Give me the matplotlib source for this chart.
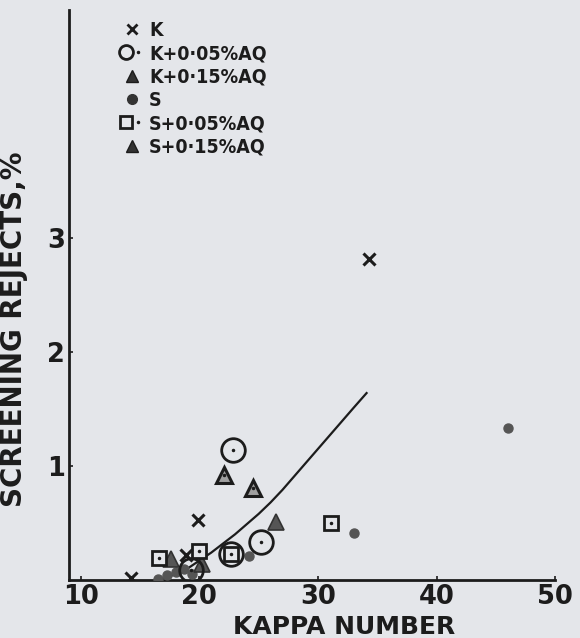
import matplotlib.pyplot as plt
from matplotlib.lines import Line2D
from matplotlib.legend_handler import HandlerTuple

BG = '#e4e6ea'
INK = '#1c1c1c'
GREY = '#555555'

# screening rejects (%) against kappa number
k_x = [34.3, 19.9, 18.9, 14.2]
k_y = [2.82, 0.53, 0.22, 0.02]

k05_x = [22.8, 25.2, 22.7, 19.3]
k05_y = [1.14, 0.33, 0.23, 0.09]

k15_x = [22.1, 24.5]
k15_y = [0.92, 0.81]

s_x = [46.0, 33.0, 24.2, 16.5, 17.3, 18.0, 18.7, 19.4]
s_y = [1.33, 0.41, 0.21, 0.01, 0.04, 0.07, 0.10, 0.05]

s05_x = [31.1, 22.7, 20.0, 16.6]
s05_y = [0.50, 0.23, 0.25, 0.19]

s15_x = [26.5, 17.6, 20.2]
s15_y = [0.51, 0.18, 0.14]

# hand-drawn trend line
curve_x = [16.5, 18.0, 19.0, 20.0, 21.0, 22.0, 23.0, 24.0, 25.0, 26.0, 27.0,
           28.0, 29.0, 30.0, 31.0, 32.0, 33.0, 34.1]
curve_y = [0.0, 0.05, 0.10, 0.17, 0.24, 0.32, 0.40, 0.49, 0.58, 0.68, 0.79,
           0.91, 1.03, 1.15, 1.27, 1.39, 1.51, 1.64]

labels = ['K', 'K+0·05%AQ', 'K+0·15%AQ', 'S', 'S+0·05%AQ', 'S+0·15%AQ']

plt.rcParams['font.family'] = ['DejaVu Sans']

fig = plt.figure(figsize=(5.8, 6.38), dpi=100, facecolor=BG)
ax = fig.add_axes([0.119, 0.091, 0.838, 0.893], facecolor=BG)

ax.plot(curve_x, curve_y, color=INK, lw=1.6, zorder=2)

ax.plot(s_x, s_y, 'o', ms=6.5, mfc=GREY, mec=GREY, zorder=3)
ax.plot(s15_x, s15_y, '^', ms=11, mfc=GREY, mec='#333333', mew=1.2, zorder=3)
ax.plot(k15_x, k15_y, '^', ms=11, mfc='#a0a0a0', mec=INK, mew=2.2, zorder=3)
ax.plot(k15_x, k15_y, '.', ms=3, color=INK, zorder=4)
ax.plot(k05_x, k05_y, 'o', ms=17, mfc='none', mec=INK, mew=2, zorder=4)
ax.plot(k05_x, k05_y, '.', ms=3, color=INK, zorder=4)
ax.plot(s05_x, s05_y, 's', ms=10, mfc=BG, mec=INK, mew=2, zorder=5)
ax.plot(s05_x, s05_y, '.', ms=3, color=INK, zorder=5)
ax.plot(k_x, k_y, 'x', ms=8, mec=INK, mew=2.2, zorder=5)

# legend handles (smaller than the plotted marks)
h_k = Line2D([], [], ls='none', marker='x', ms=7, mec=INK, mew=2)
h_k05 = (Line2D([], [], ls='none', marker='o', ms=10, mfc='none', mec=INK, mew=2),
         Line2D([], [], ls='none', marker='.', ms=3, color=INK))
h_k15 = Line2D([], [], ls='none', marker='^', ms=9, mfc='#333333', mec=INK)
h_s = Line2D([], [], ls='none', marker='o', ms=7, mfc='#333333', mec='#333333')
h_s05 = (Line2D([], [], ls='none', marker='s', ms=8, mfc='none', mec=INK, mew=2),
         Line2D([], [], ls='none', marker='.', ms=3, color=INK))
h_s15 = Line2D([], [], ls='none', marker='^', ms=9, mfc='#333333', mec=INK)

leg = ax.legend([h_k, h_k05, h_k15, h_s, h_s05, h_s15], labels,
                handler_map={tuple: HandlerTuple(ndivide=None)},
                loc='upper left', bbox_to_anchor=(0.085, 1.005), frameon=False,
                handlelength=0.8, handletextpad=0.5, labelspacing=0.22,
                borderaxespad=0.3,
                prop={'size': 14, 'weight': 'bold', 'stretch': 'condensed'})
for t in leg.get_texts():
    t.set_color(INK)

ax.set_xlim(9, 50)
ax.set_ylim(0, 5)
ax.set_xticks([10, 20, 30, 40, 50])
ax.set_yticks([1, 2, 3])
ax.tick_params(direction='in', length=3, width=1.2, colors=INK,
               labelsize=18.5, pad=3)
for lab in ax.get_xticklabels() + ax.get_yticklabels():
    lab.set_fontweight('bold')

for side in ['top', 'right']:
    ax.spines[side].set_visible(False)
for side in ['left', 'bottom']:
    ax.spines[side].set_linewidth(2)
    ax.spines[side].set_color(INK)

ax.set_xlabel('KAPPA NUMBER', fontsize=18, fontweight='bold', color=INK)
ax.xaxis.set_label_coords(0.566, -0.082)
ax.xaxis.label.set_va('center')
ax.set_ylabel('SCREENING REJECTS,%', fontsize=20, fontweight='bold', color=INK)
ax.yaxis.set_label_coords(-0.085, 0.44)

fig.savefig('out.png', dpi=100, facecolor=BG)
